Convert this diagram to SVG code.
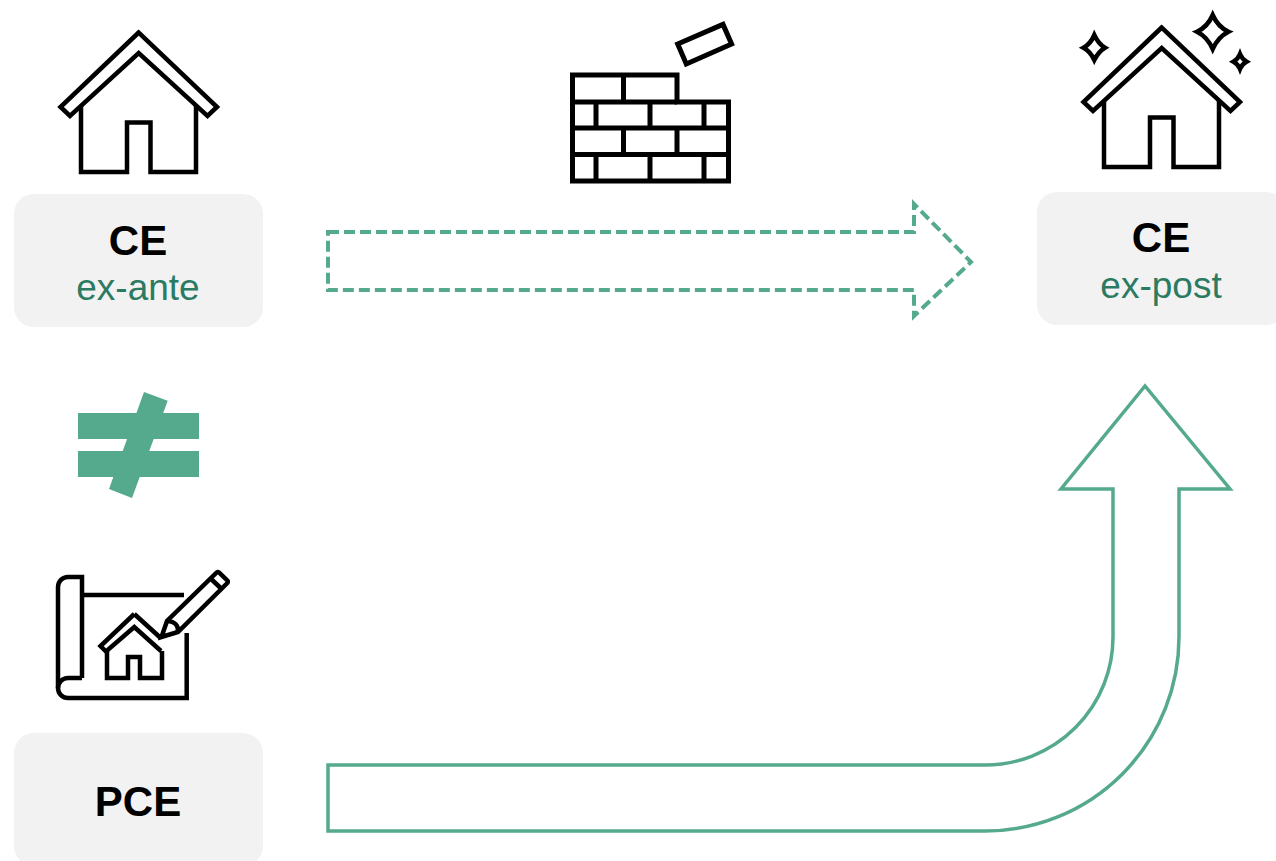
<svg xmlns="http://www.w3.org/2000/svg" width="1276" height="861" viewBox="0 0 1276 861">
<style>
.box{fill:#f2f2f2}
.ic{fill:none;stroke:#000;stroke-width:4.500;stroke-linejoin:miter;stroke-miterlimit:8}
.t{font-family:"Liberation Sans",Arial,sans-serif;text-anchor:middle}
.b{font-size:42px;font-weight:bold;fill:#000}
.s{font-size:37px;fill:#2b7a62}
.arrow{fill:none;stroke:#55a98d;stroke-width:3.500;stroke-linejoin:miter}
.g{fill:#55a98d}
</style>
<defs>
<g id="house" class="ic">
<path d="M138.700,32.500 L60.500,107 L70,116 L138.700,53 L207.500,116 L217,107 Z"/>
<path d="M81,106 V172 H127 V122.500 H150.500 V172 H196 V106"/>
</g>
</defs>
<rect width="1276" height="861" fill="#fff"/>
<g id="connectors">
<path id="arrow-dashed" class="arrow" style="stroke-width:4" stroke-dasharray="11 5" d="M328,232 H914 V204 L971,262 L914,316 V290 H328 Z"/>
<path id="arrow-solid" class="arrow" d="M328,765 H985 A128,128 0 0 0 1113,637 V489 H1061 L1145,386 L1230,489 H1179 V637 A194,194 0 0 1 985,831 H328 Z"/>
</g>
<g id="node-ce-ex-ante">
<use href="#house"/>
<rect class="box" x="14" y="194" width="249" height="133" rx="20"/>
<text class="t b" x="138" y="255">CE</text>
<text class="t s" x="138" y="300">ex-ante</text>
</g>
<g id="node-ce-ex-post">
<use href="#house" transform="translate(1023,-5)"/>
<path class="ic" d="M1212.700,15 Q1218,27 1228.500,31.700 Q1218,37 1212.700,49 Q1207.500,37 1197,31.700 Q1207.500,27 1212.700,15 Z"/>
<path class="ic" d="M1094.300,35 Q1098.500,44 1105,47.700 Q1098.500,51.500 1094.300,60 Q1090.500,51.500 1083.500,47.700 Q1090.500,44 1094.300,35 Z"/>
<path class="ic" d="M1240,54 Q1242,59 1246.500,61.700 Q1242,64 1240,69 Q1238,64 1233.500,61.700 Q1238,59 1240,54 Z"/>
<rect class="box" x="1037" y="192" width="249" height="133" rx="20"/>
<text class="t b" x="1161" y="252">CE</text>
<text class="t s" x="1161" y="298">ex-post</text>
</g>
<g id="node-wall" class="ic" style="stroke-width:5">
<path d="M572.500,75 H677 V102 H728.500 V181 H572.500 Z"/>
<path d="M572.500,102 H677 M572.500,128 H728.500 M572.500,154.500 H728.500 M623.500,75 V102 M596,102 V128 M650,102 V128 M704,102 V128 M623.500,128 V154.500 M677,128 V154.500 M596,154.500 V181 M650,154.500 V181 M704,154.500 V181"/>
<path d="M677.700,44 L723,24.400 L731.600,44 L686.300,64 Z"/>
</g>
<g id="node-not-equal" class="g">
<rect x="78" y="413" width="121" height="26"/>
<rect x="78" y="451" width="121" height="26"/>
<path d="M144,392 L167.700,400.700 L132,498 L109,489 Z"/>
</g>
<g id="node-pce">
<g class="ic">
<path d="M82,678 V577 H68 A10,10 0 0 0 58,587 V688 A10,10 0 0 0 68,698 H186.700 V633"/>
<path d="M82,678 H68 A10,10 0 0 0 58,688"/>
<path d="M82,595 H184"/>
<path d="M134.300,614 L100.500,646 L106,651.500 L134.300,627 L161,651 M134.300,614 L160.700,638"/>
<path d="M107,650 V678 H128 V657 H140 V678 H162 V651"/>
<path d="M161.500,637 L167,621 L216.700,572.500 A2,2 0 0 1 219,572.500 L227.300,580.500 A2,2 0 0 1 227.300,583 L178,632 Z"/>
<path d="M167,621 Q179,622 178,632 M210,578 L221.700,589"/>
</g>
<rect class="box" x="14" y="733" width="249" height="133" rx="20"/>
<text class="t b" x="138" y="816">PCE</text>
</g>
</svg>
